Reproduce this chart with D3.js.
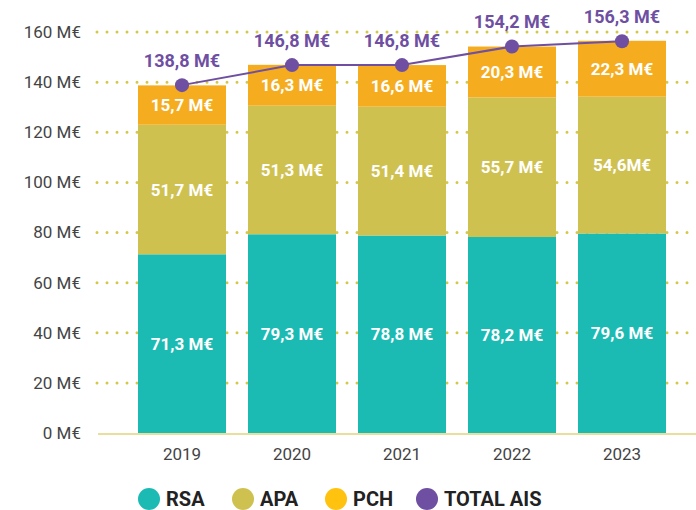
<!DOCTYPE html>
<html><head><meta charset="utf-8">
<script src="https://cdn.jsdelivr.net/npm/d3@7/dist/d3.min.js"></script>
<style>
body{margin:0;background:#fff;}
svg text{font-family:Roboto,"Open Sans",sans-serif;}
</style></head>
<body><svg id="c" width="696" height="510"></svg>
<script>
const years = ["2019","2020","2021","2022","2023"];
const rsa = [71.3, 79.3, 78.8, 78.2, 79.6];
const apa = [51.7, 51.3, 51.4, 55.7, 54.6];
const pch = [15.7, 16.3, 16.6, 20.3, 22.3];
const total = [138.8, 146.8, 146.8, 154.2, 156.3];
const yTicks = [0,20,40,60,80,100,120,140,160];
const seriesNames = ["RSA","APA","PCH","TOTAL AIS"];
const colors = {RSA:"#1bbbb4", APA:"#cfc150", PCH:"#f5ad1f"};
const legendColors = ["#1bbbb4","#cfc150","#ffc20e","#6e4fa1"];

const fmt = v => v.toFixed(1).replace(".", ",");
const svg = d3.select("#c");
const y = d3.scaleLinear().domain([0,160]).range([433,32]);
const x = d3.scaleBand().domain(years).range([127,677]).paddingInner(0.2).paddingOuter(0.1);

// grid
svg.append("g").selectAll("line").data(yTicks.filter(t=>t>0)).join("line")
  .attr("x1",97).attr("x2",696).attr("y1",d=>y(d)).attr("y2",d=>y(d))
  .attr("stroke","#d4c84a").attr("stroke-width",3).attr("stroke-linecap","round")
  .attr("stroke-dasharray","0 10");

// y labels
const yAxis = d3.axisLeft(y).tickValues(yTicks).tickSize(0).tickPadding(0).tickFormat(d=>d+" M€");
const ya = svg.append("g").attr("transform","translate(81,0)").call(yAxis);
ya.select(".domain").remove();
ya.selectAll("text").attr("font-size",17).attr("fill","#444").attr("font-family","Roboto,sans-serif");

// stacked data
const rows = years.map((yr,i)=>({year:yr, RSA:rsa[i], APA:apa[i], PCH:pch[i]}));
const stack = d3.stack().keys(["RSA","APA","PCH"])(rows);
const g = svg.append("g");
stack.forEach(layer=>{
  g.append("g").selectAll("rect").data(layer).join("rect")
    .attr("x",d=>x(d.data.year)).attr("width",x.bandwidth())
    .attr("y",d=>y(d[1])).attr("height",d=>y(d[0])-y(d[1]))
    .attr("fill",colors[layer.key]);
  g.append("g").selectAll("text").data(layer).join("text")
    .attr("x",d=>x(d.data.year)+x.bandwidth()/2)
    .attr("y",d=>(y(d[0])+y(d[1]))/2)
    .attr("dy","0.36em").attr("text-anchor","middle")
    .attr("fill","#fff").attr("font-weight","bold").attr("font-size",17)
    .text(d=>{const v=d.data[layer.key]; return (layer.key==="APA" && d.data.year==="2023") ? fmt(v)+"M€" : fmt(v)+" M€";});
});

// axis line
svg.append("line").attr("x1",98).attr("x2",696).attr("y1",434).attr("y2",434)
  .attr("stroke","#e8df9e").attr("stroke-width",2);

// x labels
const xAxis = d3.axisBottom(x).tickSize(0).tickPadding(0);
const xa = svg.append("g").attr("transform","translate(0,451)").call(xAxis);
xa.select(".domain").remove();
xa.selectAll("text").attr("font-size",17).attr("fill","#444").attr("dy","0.5em").attr("font-family","Roboto,sans-serif");

// total line
const cx = d=>x(d)+x.bandwidth()/2;
const line = d3.line().x((d,i)=>cx(years[i])).y(d=>y(d));
svg.append("path").datum(total).attr("d",line).attr("fill","none")
  .attr("stroke","#6e4fa1").attr("stroke-width",2);
svg.append("g").selectAll("circle").data(total).join("circle")
  .attr("cx",(d,i)=>cx(years[i])).attr("cy",d=>y(d)).attr("r",7).attr("fill","#6e4fa1");
svg.append("g").selectAll("text").data(total).join("text")
  .attr("x",(d,i)=>cx(years[i])).attr("y",d=>y(d)-25)
  .attr("dy","0.36em").attr("text-anchor","middle")
  .attr("fill","#6e4fa1").attr("font-weight","bold").attr("font-size",18)
  .text(d=>fmt(d)+" M€");

// legend
const legX = [149,243,336,427];
const lg = svg.append("g");
seriesNames.forEach((n,i)=>{
  lg.append("circle").attr("cx",legX[i]).attr("cy",499).attr("r",11).attr("fill",legendColors[i]);
  lg.append("text").attr("x",legX[i]+17).attr("y",499).attr("dy","0.36em")
    .attr("font-size",20).attr("font-weight","bold").attr("fill","#222").text(n);
});
</script></body></html>
